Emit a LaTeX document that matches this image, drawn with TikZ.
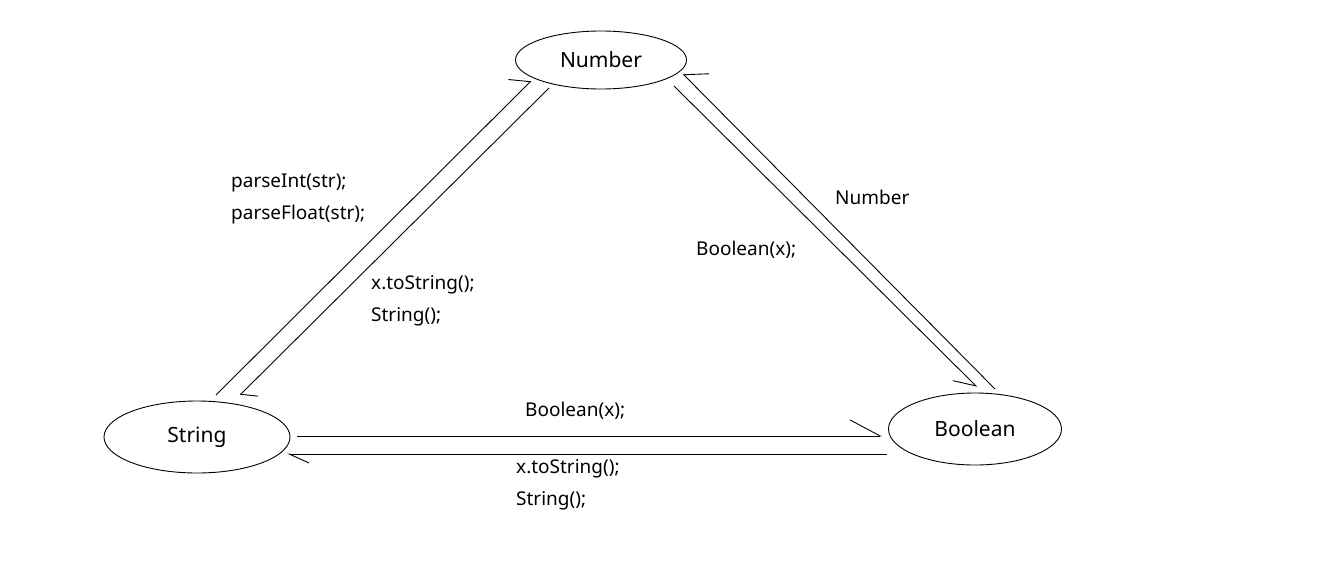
\documentclass[tikz,border=0pt]{standalone}
\usepackage{fontspec}
\setmainfont{Noto Sans}
\usetikzlibrary{shapes.geometric,arrows.meta}
\tikzstyle{type} = [ellipse, draw=black, line width=0.9pt, inner sep=0pt, font=\fontsize{21}{24}\selectfont]
\tikzstyle{call} = [anchor=west, align=left, inner sep=0pt, font=\fontsize{19}{32}\selectfont]
\tikzstyle{link} = [line width=0.9pt]

\begin{document}
\begin{tikzpicture}[x=1pt,y=-1pt]
\useasboundingbox (0,0) rectangle (1341,581);

\node (number) [type, minimum width=171pt, minimum height=58pt] at (601,60) {Number};
\node (string) [type, minimum width=186pt, minimum height=72pt] at (197,437) {String};
\node (boolean) [type, minimum width=173pt, minimum height=72pt] at (975,429) {Boolean};
%
\node (strnum) [call] at (231,199) {parseInt(str);\\parseFloat(str);};
\node (numstr) [call] at (371,301) {x.toString();\\String();};
\node (boolnum) [call] at (835,197) {Number};
\node (numbool) [call] at (696,250) {Boolean(x);};
\node (strbool) [call] at (525,411) {Boolean(x);};
\node (boolstr) [call] at (516,485) {x.toString();\\String();};
%
\draw [link, -{Straight Barb[harpoon, length=14pt, width=34pt]}] ([shift={(19,-42)}]string.center) -- ([shift={(-70,21)}]number.center);
\draw [link, -{Straight Barb[harpoon, length=11pt, width=27pt]}] ([shift={(-52,28)}]number.center) -- ([shift={(43,-42)}]string.center);
\draw [link, -{Straight Barb[harpoon, swap, length=20pt, width=25pt]}] ([shift={(73,26)}]number.center) -- ([shift={(2,-42)}]boolean.center);
\draw [link, -{Straight Barb[harpoon, swap, length=17pt, width=37pt]}] ([shift={(20,-40)}]boolean.center) -- ([shift={(82,14)}]number.center);
\draw [link, -{Straight Barb[harpoon, length=30pt, width=32pt]}] ([shift={(100,-1)}]string.center) -- ([shift={(-93,7)}]boolean.center);
\draw [link, -{Straight Barb[harpoon, length=20pt, width=18pt]}] ([shift={(-88,25)}]boolean.center) -- ([shift={(90,17)}]string.center);
\end{tikzpicture}
\end{document}
